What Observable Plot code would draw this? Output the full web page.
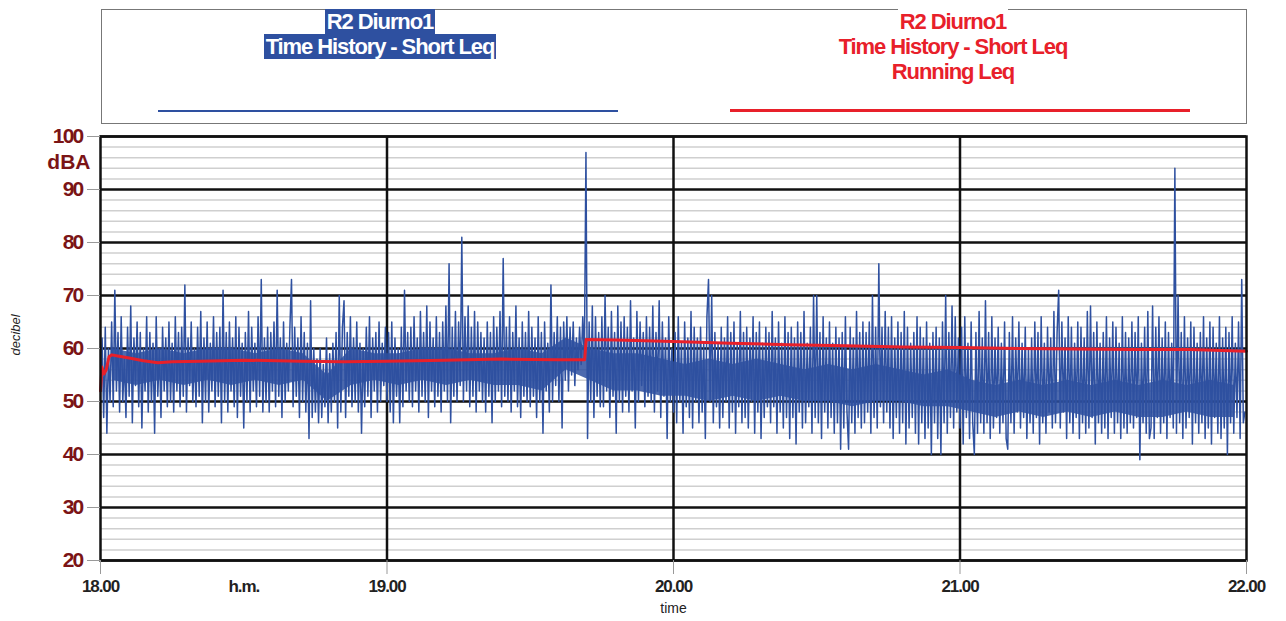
<!DOCTYPE html>
<html>
<head>
<meta charset="utf-8">
<script src="https://cdn.jsdelivr.net/npm/d3@7"></script>
<script src="https://cdn.jsdelivr.net/npm/@observablehq/plot@0.6"></script>
<style>
  html, body { margin: 0; padding: 0; background: #fff; }
  #wrap { position: relative; width: 1286px; height: 621px; overflow: hidden; font-family: "Liberation Sans", Arial, sans-serif; }
  #legend { position: absolute; left: 0; top: 0; width: 1286px; height: 124px; }
  #box { position: absolute; left: 101px; top: 9px; width: 1144px; height: 113px; border: 1px solid #777; }
  .ttl { position: absolute; top: 9px; text-align: center; font-weight: bold; font-size: 22px; line-height: 25px; letter-spacing: -1.1px; }
  .ttl span { display: inline-block; padding: 0 2px; }
  #tBlue { left: 180px; width: 400px; color: #fff; }
  #tBlue span { background: #2e50a0; }
  #tRed { left: 753px; width: 400px; color: #e8202a; }
  #tRed span { background: #fff; }
  .lg { position: absolute; }
  #chart { position: absolute; left: 0; top: 124px; }
  #chart svg { display: block; }
</style>
</head>
<body>
<div id="wrap">
  <div id="legend">
    <div id="box"></div>
    <div class="ttl" id="tBlue"></div>
    <div class="ttl" id="tRed"></div>
    <div class="lg" id="lBlue" style="left:158px; top:110px; width:460px; height:1.5px; background:#2e50a0;"></div>
    <div class="lg" id="lRed" style="left:730px; top:109px; width:460px; height:3px; background:#e8202a;"></div>
  </div>
  <div id="chart"></div>
</div>
<script>
// ---- Legend texts ----
const blueTitle = ["R2 Diurno1", "Time History - Short Leq"];
const redTitle = ["R2 Diurno1", "Time History - Short Leq", "Running Leq"];

// ---- Axis ticks ----
const xTicks = [18, 19, 20, 21, 22];
const xUnitTick = [18.5];
const yTicks = [20, 30, 40, 50, 60, 70, 80, 90, 100];
const yMinor = [22, 24, 26, 28, 32, 34, 36, 38, 42, 44, 46, 48, 52, 54, 56, 58, 62, 64, 66, 68, 72, 74, 76, 78, 82, 84, 86, 88, 92, 94, 96, 98];
const xGrid = [19, 20, 21];

// ---- Short Leq time history (dBA), 20 s samples from 18.00 to 22.00 ----
const shortLeq = [
  52,62,47,64,44,60,50,65,49,71,52,63,48,66,50,
  58,47,64,51,68,46,62,53,65,49,63,45,60,52,66,
  48,63,50,61,44,66,51,60,47,64,52,62,49,65,50,
  61,48,66,52,63,49,64,51,72,48,62,53,65,50,60,
  49,64,51,67,46,62,50,65,48,61,52,66,49,63,51,
  64,46,71,50,63,48,65,52,62,49,66,47,64,51,61,
  45,63,50,67,48,64,52,61,49,66,51,73,48,62,50,
  64,48,63,52,65,49,71,51,62,47,65,50,61,52,64,
  73,49,64,51,62,47,66,50,63,48,61,43,69,47,60,
  48,58,46,60,47,57,49,62,46,59,48,61,50,63,45,
  70,48,64,69,47,63,51,66,49,62,50,65,48,61,44,
  60,49,64,51,66,47,62,52,63,48,65,50,61,53,64,
  50,63,48,65,46,62,51,60,46,64,49,71,52,63,50,
  64,49,66,52,62,48,67,51,63,50,68,47,65,52,62,
  49,66,51,63,48,65,52,68,50,76,46,64,51,67,50,
  65,53,81,50,66,52,68,49,64,51,67,48,65,52,63,
  50,62,48,65,51,63,46,66,50,64,52,67,49,77,51,
  64,50,66,48,63,52,68,49,62,47,65,51,63,50,67,
  49,64,51,62,47,66,50,63,44,65,52,61,48,72,50,
  63,53,66,50,64,45,65,54,66,52,64,55,65,53,62,
  56,64,57,66,58,97,43,65,50,68,47,66,51,63,49,
  66,49,70,52,64,47,67,51,63,44,68,50,65,48,66,
  51,64,48,69,52,62,45,67,50,65,53,63,49,66,51,
  64,50,68,48,63,52,69,47,65,51,62,43,66,50,60,
  48,63,46,66,50,61,44,65,49,62,47,67,45,64,50,
  62,46,64,48,61,43,66,73,50,70,46,63,49,61,45,
  64,47,62,50,66,45,63,48,65,44,61,49,67,46,63,
  47,64,45,62,50,66,44,63,48,65,43,61,47,64,49,
  63,46,67,49,62,44,65,48,61,45,66,47,63,43,64,
  47,62,42,65,48,63,45,67,46,61,49,64,44,70,47,
  70,46,63,43,66,48,62,45,65,47,61,44,64,46,62,
  41,63,45,66,48,41,64,46,62,44,67,47,63,45,65,
  46,63,48,65,44,70,47,64,45,76,49,64,46,67,48,
  64,45,66,43,62,47,65,44,63,46,67,42,64,45,61,
  47,63,44,66,42,64,46,62,43,65,45,61,40,63,46,
  64,43,62,40,65,46,70,44,63,47,68,45,66,48,62,
  45,64,42,66,47,61,43,65,46,40,63,44,67,46,62,
  44,69,46,63,43,66,45,62,47,64,44,61,46,65,43,
  41,63,46,66,44,62,48,65,45,61,47,64,43,60,46,
  62,44,65,47,63,42,66,46,61,44,64,48,62,45,67,
  46,63,71,45,65,48,62,43,66,46,64,44,61,47,65,
  43,64,46,62,44,67,45,68,47,63,42,65,46,61,44,
  63,45,66,43,62,47,65,44,64,46,61,43,66,45,63,
  44,62,46,65,45,63,47,66,39,61,46,64,44,67,43,
  45,68,43,64,47,66,44,62,46,65,43,63,47,61,45,
  94,44,70,46,63,43,66,45,62,47,65,42,64,46,61,
  44,63,46,66,43,62,45,65,42,64,47,61,44,66,43,
  62,45,64,40,63,46,66,44,61,47,65,43,73,46,48
];

// ---- Dense core of the time history, per 5-minute block (dBA) ----
const coreLow  = [54,53,54,53,54,53,54,53,54,50,53,54, 53,54,53,54,53,53,52,56,54,52,52,51, 51,50,51,50,51,50,50,49,50,50,49,49, 48,47,48,47,48,47,48,47,47,48,47,47];
const coreHigh = [60,59,60,59,60,60,59,60,59,55,60,59, 59,60,60,59,59,60,59,62,60,59,59,58, 57,58,57,58,57,56,57,56,57,56,55,56, 54,53,54,53,54,53,54,53,54,53,54,53];

// ---- Running Leq (dBA) ----
const runTimes  = [18.000,18.005,18.012,18.020,18.030,18.040,18.060,18.10,18.15,18.20,18.25,18.35,18.50,18.70,18.85,19.00,19.20,19.40,19.60,19.690,19.695,19.80,20.00,20.20,20.40,20.60,20.80,21.00,21.20,21.40,21.60,21.80,22.00];
const runValues = [52.0, 56.5, 55.2, 56.0, 58.5, 58.8, 58.6, 58.2, 57.7, 57.3, 57.5, 57.6, 57.8, 57.6, 57.5, 57.6, 57.8, 58.0, 57.9, 57.9, 61.7, 61.6, 61.3, 61.0, 60.7, 60.5, 60.3, 60.2, 60.0, 59.9, 59.8, 59.8, 59.5];

// legend texts
document.getElementById("tBlue").innerHTML = blueTitle.map(s => `<span>${s}</span>`).join("<br>");
document.getElementById("tRed").innerHTML = redTitle.map(s => `<span>${s}</span>`).join("<br>");

const shortData = shortLeq.map((v, i) => ({t: 18 + i * 4 / shortLeq.length, v}));
const coreData = coreLow.map((lo, k) => ({t: 18 + (k + 0.5) / 12, lo, hi: coreHigh[k]}));
const runData = runTimes.map((t, i) => ({t, v: runValues[i]}));

const sans = "'Liberation Sans', Arial, sans-serif";
const blueC = "#2e50a0", redC = "#e8202a", maroon = "#7b1416";

const chart = Plot.plot({
  width: 1286,
  height: 497,
  marginLeft: 100,
  marginRight: 40,
  marginTop: 12,
  marginBottom: 61,
  style: {background: "#fff", fontFamily: sans},
  x: {domain: [18, 22]},
  y: {domain: [20, 100]},
  marks: [
    Plot.ruleY(yMinor, {stroke: "#cfcfcf", strokeWidth: 1.5}),
    Plot.ruleY(yTicks, {stroke: "#111", strokeWidth: 2.5}),
    Plot.ruleX(xGrid, {stroke: "#111", strokeWidth: 2.5}),
    Plot.areaY(coreData, {x: "t", y1: "lo", y2: "hi", fill: blueC, fillOpacity: 0.85}),
    Plot.lineY(shortData, {x: "t", y: "v", stroke: blueC, strokeWidth: 1.5}),
    Plot.line(runData, {x: "t", y: "v", stroke: redC, strokeWidth: 3}),
    Plot.frame({stroke: "#111", strokeWidth: 2.5}),
    Plot.axisX({ticks: xTicks, tickFormat: d => d.toFixed(2), tickSize: 14, tickPadding: 5, stroke: "#999", fill: "#222",
      fontSize: 17, fontWeight: "bold", label: null}),
    Plot.axisX({ticks: xUnitTick, tickFormat: () => "h.m.", tickSize: 0, tickPadding: 19, fill: "#222",
      fontSize: 17, fontWeight: "bold", label: null}),
    Plot.axisX({ticks: [], label: "time", labelAnchor: "center", labelArrow: "none", labelOffset: 52, fontSize: 14, fill: "#222"}),
    Plot.axisY({ticks: yTicks, tickSize: 13, tickPadding: 5, stroke: "#999", fill: maroon,
      fontSize: 21, fontWeight: "bold", label: null}),
    Plot.text(["dBA"], {frameAnchor: "top-left", dx: -10, dy: 18, textAnchor: "end", fill: maroon,
      fontSize: 21, fontWeight: "bold", ariaLabel: "dba"}),
    Plot.text(["decibel"], {frameAnchor: "left", dx: -85, dy: 7, rotate: -90, fill: "#222",
      fontSize: 13, fontStyle: "italic"})
  ]
});
document.getElementById("chart").appendChild(chart);
const s = d3.select(chart);
s.selectAll('g[aria-label="y-axis tick label"] text, g[aria-label="dba"] text').style("letter-spacing", "-1.8px");
s.selectAll('g[aria-label="x-axis tick label"] text').style("letter-spacing", "-1.1px");
</script>
</body>
</html>
